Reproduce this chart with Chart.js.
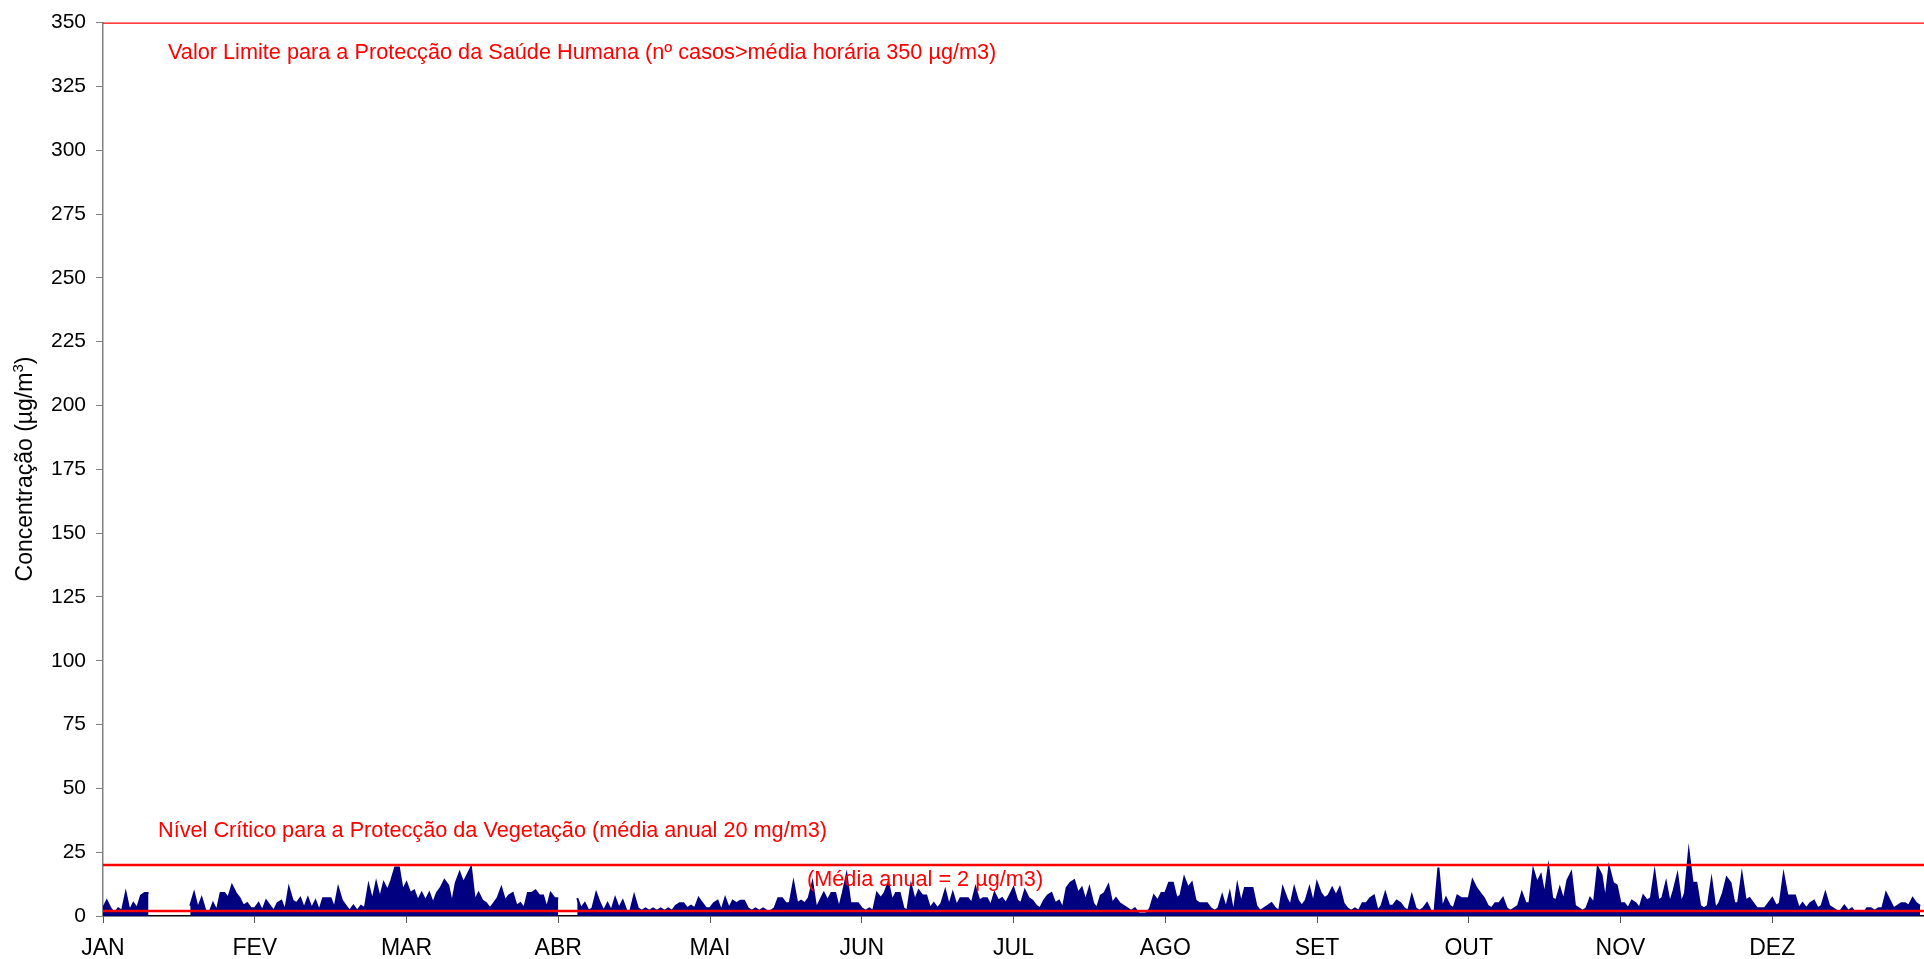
<!DOCTYPE html>
<html lang="pt">
<head>
<meta charset="utf-8">
<title>Concentração horária</title>
<script src="https://cdn.jsdelivr.net/npm/chart.js@4.4.1/dist/chart.umd.min.js"></script>
<style>
  html, body { margin: 0; padding: 0; background: #fff; }
  canvas { display: block; }
</style>
</head>
<body>
<canvas id="grafico" width="1924" height="959"></canvas>
<script>
const meses = ['JAN', 'FEV', 'MAR', 'ABR', 'MAI', 'JUN', 'JUL', 'AGO', 'SET', 'OUT', 'NOV', 'DEZ']

// leituras do gráfico, 40 por mês (µg/m3) - null = sem dados
const jan = [3, 6, 3, 1, 3, 2, 9, 2, 5, 3, 8, 9, 9, null, null, null, null, null, null, null, null, null, null, 4, 9, 3, 7, 2, 1, 5, 2, 9, 9, 7, 12, 9, 7, 4, 5, 3]
const fev = [3, 5, 2, 6, 4, 2, 5, 6, 2, 11, 6, 5, 7, 3, 7, 3, 6, 2, 7, 7, 7, 3, 11, 6, 4, 2, 4, 2, 4, 3, 12, 6, 13, 7, 13, 10, 14, 19, 19, 10]
const mar = [13, 9, 10, 6, 9, 6, 9, 5, 9, 11, 14, 12, 5, 13, 17, 13, 16, 19, 6, 9, 6, 5, 3, 5, 7, 11, 6, 8, 9, 4, 5, 3, 9, 9, 10, 8, 8, 3, 9, 7]
const abr = [7, null, null, null, null, 7, 3, 5, 2, 3, 9, 5, 2, 5, 2, 7, 3, 6, 2, 2, 8, 3, 2, 3, 2, 3, 2, 3, 2, 3, 2, 4, 5, 5, 3, 4, 3, 7, 5, 3]
const mai = [3, 5, 6, 2, 7, 3, 6, 5, 6, 6, 3, 2, 3, 2, 3, 2, 2, 3, 7, 7, 5, 5, 13, 5, 6, 5, 7, 13, 3, 6, 9, 6, 9, 9, 3, 9, 16, 5, 5, 5]
const jun = [3, 2, 3, 2, 9, 7, 9, 13, 6, 9, 9, 3, 2, 12, 6, 10, 8, 8, 3, 5, 3, 5, 10, 4, 9, 4, 7, 7, 7, 5, 11, 6, 7, 7, 4, 9, 6, 7, 5, 8]
const jul = [11, 6, 5, 10, 7, 6, 4, 3, 6, 8, 9, 5, 6, 3, 11, 13, 14, 9, 11, 6, 11, 5, 3, 8, 9, 12, 5, 7, 5, 4, 3, 2, 3, 1, 1, 1, 3, 8, 6, 9]
const ago = [9, 13, 13, 7, 8, 15, 11, 13, 6, 5, 5, 5, 3, 2, 3, 8, 3, 9, 1, 12, 5, 11, 11, 11, 4, 2, 3, 4, 5, 3, 2, 11, 7, 4, 11, 6, 4, 6, 11, 5]
const set = [13, 9, 7, 8, 11, 8, 11, 5, 3, 2, 3, 2, 5, 5, 7, 8, 2, 4, 9, 4, 4, 6, 5, 3, 2, 8, 3, 2, 3, 5, 2, 2, 19, 3, 7, 4, 3, 8, 7, 7]
const out = [7, 14, 11, 9, 7, 4, 3, 5, 5, 7, 3, 2, 3, 4, 9, 5, 5, 18, 13, 16, 8, 19, 7, 6, 11, 6, 14, 17, 4, 3, 2, 3, 7, 5, 19, 16, 6, 19, 13, 12]
const nov = [5, 5, 3, 6, 5, 3, 8, 6, 7, 17, 6, 7, 13, 5, 10, 16, 5, 9, 25, 13, 13, 4, 3, 4, 14, 3, 5, 9, 15, 13, 5, 5, 16, 6, 7, 5, 3, 3, 3, 5]
const dez = [7, 4, 5, 16, 8, 8, 8, 3, 5, 3, 5, 6, 3, 4, 9, 4, 3, 2, 2, 4, 2, 3, 1, 2, 1, 3, 3, 2, 3, 3, 9, 6, 3, 4, 5, 5, 4, 7, 5, 4]

const limites = [350, 20, 2]
const textoLimite = 'Valor Limite para a Protecção da Saúde Humana (nº casos>média horária 350 µg/m3)'
const textoNivel = 'Nível Crítico para a Protecção da Vegetação (média anual 20 mg/m3)'
const textoMedia = '(Média anual = 2 µg/m3)'

const porMes = [jan, fev, mar, abr, mai, jun, jul, ago, set, out, nov, dez]
const serie = porMes.flatMap((valores, m) => valores.map((v, i) => ({ x: m + i / valores.length, y: v })))

const fonte = '"Liberation Sans", Arial, sans-serif'

const linhasLimite = limites.map((v) => {
    return {
        data: [{ x: 0, y: v }, { x: 12, y: v }],
        borderColor: '#ff0000',
        borderWidth: 2.5,
        pointRadius: 0,
        fill: false,
        order: 0
    }
})

const anotacoes = {
    id: 'anotacoes',
    afterDatasetsDraw(chart) {
        const ctx = chart.ctx
        ctx.save()
        ctx.fillStyle = '#ff0000'
        ctx.font = '21.7px ' + fonte
        ctx.textBaseline = 'alphabetic'
        ctx.fillText(textoLimite, 168, 59)
        ctx.fillText(textoNivel, 158, 837)
        ctx.fillText(textoMedia, 807, 886)

        // titulo do eixo y com o 3 em expoente
        ctx.fillStyle = '#000'
        ctx.translate(32, 469)
        ctx.rotate(-Math.PI / 2)
        const t1 = 'Concentração (µg/m'
        ctx.font = '23px ' + fonte
        const w1 = ctx.measureText(t1).width
        const w3 = ctx.measureText(')').width
        ctx.font = '15px ' + fonte
        const w2 = ctx.measureText('3').width
        const inicio = -(w1 + w2 + w3) / 2
        ctx.fillText('3', inicio + w1, -9)
        ctx.font = '23px ' + fonte
        ctx.fillText(t1, inicio, 0)
        ctx.fillText(')', inicio + w1 + w2, 0)
        ctx.restore()
    }
}

const config = {
    type: 'line',
    data: {
        datasets: [
            ...linhasLimite,
            {
                data: serie,
                borderColor: '#000080',
                backgroundColor: '#000080',
                borderWidth: 2,
                pointRadius: 0,
                tension: 0,
                spanGaps: false,
                fill: 'origin',
                order: 1
            }
        ]
    },
    options: {
        responsive: false,
        animation: false,
        devicePixelRatio: 1,
        layout: { padding: { top: 21, right: 0, left: 0, bottom: 0 } },
        plugins: { legend: { display: false }, tooltip: { enabled: false } },
        scales: {
            x: {
                type: 'linear',
                min: 0,
                max: 12,
                afterFit: (scale) => {
                    scale.height = 43
                    scale.paddingRight = 0
                },
                ticks: {
                    stepSize: 1,
                    autoSkip: false,
                    maxRotation: 0,
                    padding: 12,
                    color: '#000',
                    font: { family: fonte, size: 23 },
                    callback: (v) => meses[v] || ''
                },
                grid: { drawOnChartArea: false, drawTicks: true, tickLength: 7, color: '#555' },
                border: { display: true, color: '#000', width: 1.5 }
            },
            y: {
                min: 0,
                max: 350,
                afterFit: (scale) => { scale.width = 103 },
                ticks: {
                    stepSize: 25,
                    padding: 10,
                    color: '#000',
                    font: { family: fonte, size: 21 }
                },
                grid: { drawOnChartArea: false, drawTicks: true, tickLength: 7, color: '#808080' },
                border: { display: true, color: '#808080', width: 1.5 }
            }
        }
    },
    plugins: [anotacoes]
}

const ctxGrafico = document.getElementById('grafico')

new Chart(ctxGrafico, config)
</script>
</body>
</html>
